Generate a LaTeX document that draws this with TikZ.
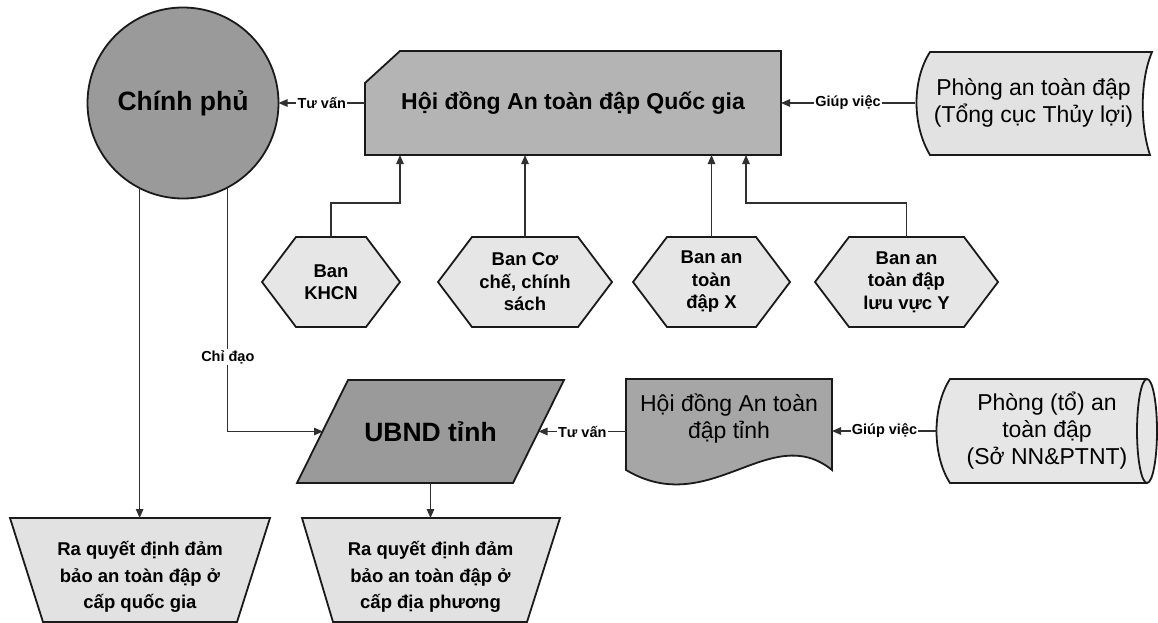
\documentclass[tikz,border=0pt]{standalone}
\usepackage{fontspec}
\setmainfont{Liberation Sans}
\usetikzlibrary{arrows.meta,calc}
\definecolor{edge}{HTML}{1A1A1A}
\definecolor{connc}{HTML}{303030}
\definecolor{gdark}{HTML}{9A9A9A}
\definecolor{gmid}{HTML}{B4B4B4}
\definecolor{gdoc}{HTML}{A6A6A6}
\definecolor{glight}{HTML}{E2E2E2}
\definecolor{ghex}{HTML}{E6E6E6}
\tikzset{
  outline/.style={draw=edge, line width=1.8pt, line join=miter},
  connector/.style={draw=connc, line width=1.2pt, -{Triangle[length=9pt,width=7.5pt]}},
  lbl/.style={fill=white, inner sep=1.2pt, text=black, font=\bfseries\fontsize{14.5}{16}\selectfont},
  frame/.style 2 args={inner sep=0pt, outer sep=0pt, minimum width=#1, minimum height=#2},
  hextxt/.style={align=center, font=\bfseries\fontsize{18.5}{22.5}\selectfont},
  bigbold/.style={font=\bfseries\fontsize{26.5}{30}\selectfont},
  normtxt/.style={align=center, font=\fontsize{23}{27}\selectfont},
  rqtxt/.style={align=center, font=\bfseries\fontsize{18.5}{26.5}\selectfont}
}
\begin{document}
\begin{tikzpicture}[x=1pt,y=-1pt]
\useasboundingbox (0,0) rectangle (1158,623);

% Chinh phu
\node[circle, outline, fill=gdark, minimum size=191pt, inner sep=0pt, outer sep=0pt, bigbold] (cp) at (183,103) {Chính phủ};

% Hoi dong quoc gia
\filldraw[outline, fill=gmid] (365,83) -- (400,51) -- (781,51) -- (781,155) -- (365,155) -- cycle;
\node[frame={416pt}{104pt}, font=\bfseries\fontsize{23}{27}\selectfont] (hd) at (573,103) {Hội đồng An toàn đập Quốc gia};

% Phong an toan dap (top right)
\filldraw[outline, fill=glight] (930,52) -- (1152,52) .. controls (1140,80) and (1140,125) .. (1150,155) -- (930,155) .. controls (912,125) and (912,80) .. (930,52) -- cycle;
\node[frame={237pt}{103pt}, normtxt] (pa) at (1033.5,103) {Phòng an toàn đập\\(Tổng cục Thủy lợi)};

% Hexagons
\foreach \nm/\cx/\hw/\tx in {h1/331/69/{Ban\\KHCN}, h2/525/87/{Ban Cơ\\chế, chính\\sách}, h3/711.5/78.5/{Ban an\\toàn\\đập X}, h4/906.5/91.5/{Ban an\\toàn đập\\lưu vực Y}}{
  \filldraw[outline, fill=ghex] ({\cx-\hw},282) -- ({\cx-\hw+34},237) -- ({\cx+\hw-34},237) -- ({\cx+\hw},282) -- ({\cx+\hw-34},327) -- ({\cx-\hw+34},327) -- cycle;
  \node[frame={2*\hw*1pt}{90pt}, hextxt] (\nm) at (\cx,282) {\tx};
}

% UBND tinh
\filldraw[outline, fill=gdark] (348,380) -- (564,380) -- (513,483) -- (297,483) -- cycle;
\node[frame={267pt}{103pt}, bigbold] (ub) at (430.5,431.5) {UBND tỉnh};
\coordinate (ubW) at (323,431.5);
\coordinate (ubE) at (538.5,431.5);

% Hoi dong tinh (document)
\filldraw[outline, fill=gdoc] (626,379) -- (832,379) -- (832,470) .. controls (770,420) and (710,520) .. (626,470) -- cycle;
\node[frame={206pt}{60pt}, normtxt] (ht) at (729,419) {Hội đồng An toàn\\đập tỉnh};

% Phong (to) an toan dap
\filldraw[outline, fill=ghex] (950,379) -- (1147,379) .. controls (1152.5,379) and (1157,402.3) .. (1157,431) .. controls (1157,459.7) and (1152.5,483) .. (1147,483) -- (950,483) .. controls (932,455) and (932,407) .. (950,379) -- cycle;
\draw[outline] (1147,379) .. controls (1141.5,379) and (1137,402.3) .. (1137,431) .. controls (1137,459.7) and (1141.5,483) .. (1147,483);
\node[frame={220pt}{104pt}, normtxt] (pt) at (1047,431) {Phòng (tổ) an\\toàn đập\\(Sở NN\&PTNT)};

% Ra quyet dinh
\filldraw[outline, fill=glight] (10,518) -- (270,518) -- (237,622) -- (43,622) -- cycle;
\node[frame={260pt}{118pt}, rqtxt] (rq1) at (140,577) {Ra quyết định đảm\\bảo an toàn đập ở\\cấp quốc gia};
\filldraw[outline, fill=glight] (302,518) -- (560,518) -- (527,622) -- (333,622) -- cycle;
\node[frame={258pt}{118pt}, rqtxt] (rq2) at (430.5,577) {Ra quyết định đảm\\bảo an toàn đập ở\\cấp địa phương};

% connectors
\draw[connector] (hd.west) -- (cp.east) node[midway, lbl] {Tư vấn};
\draw[connector] (pa.west) -- (hd.east) node[midway, lbl] {Giúp việc};
\coordinate (j1) at (400,203);
\coordinate (j4) at (746,203);
\draw[connector] (h1.north) |- (j1) -- (j1 |- hd.south);
\draw[connector] (h2.north) -- (h2.north |- hd.south);
\draw[connector] (h3.north) -- (h3.north |- hd.south);
\draw[connector] (h4.north) |- (j4) -- (j4 |- hd.south);
\draw[connector] (cp.298) |- (ubW) node[pos=0.348, lbl] {Chỉ đạo};
\draw[connector] (cp.243) -- (cp.243 |- rq1.north);
\draw[connector] (ht.west |- ubE) -- (ubE) node[midway, lbl] {Tư vấn};
\draw[connector] (pt.west) -- (pt.west -| ht.east) node[midway, lbl] {Giúp việc};
\draw[connector] (ub.south) -- (ub.south |- rq2.north);
\end{tikzpicture}
\end{document}
